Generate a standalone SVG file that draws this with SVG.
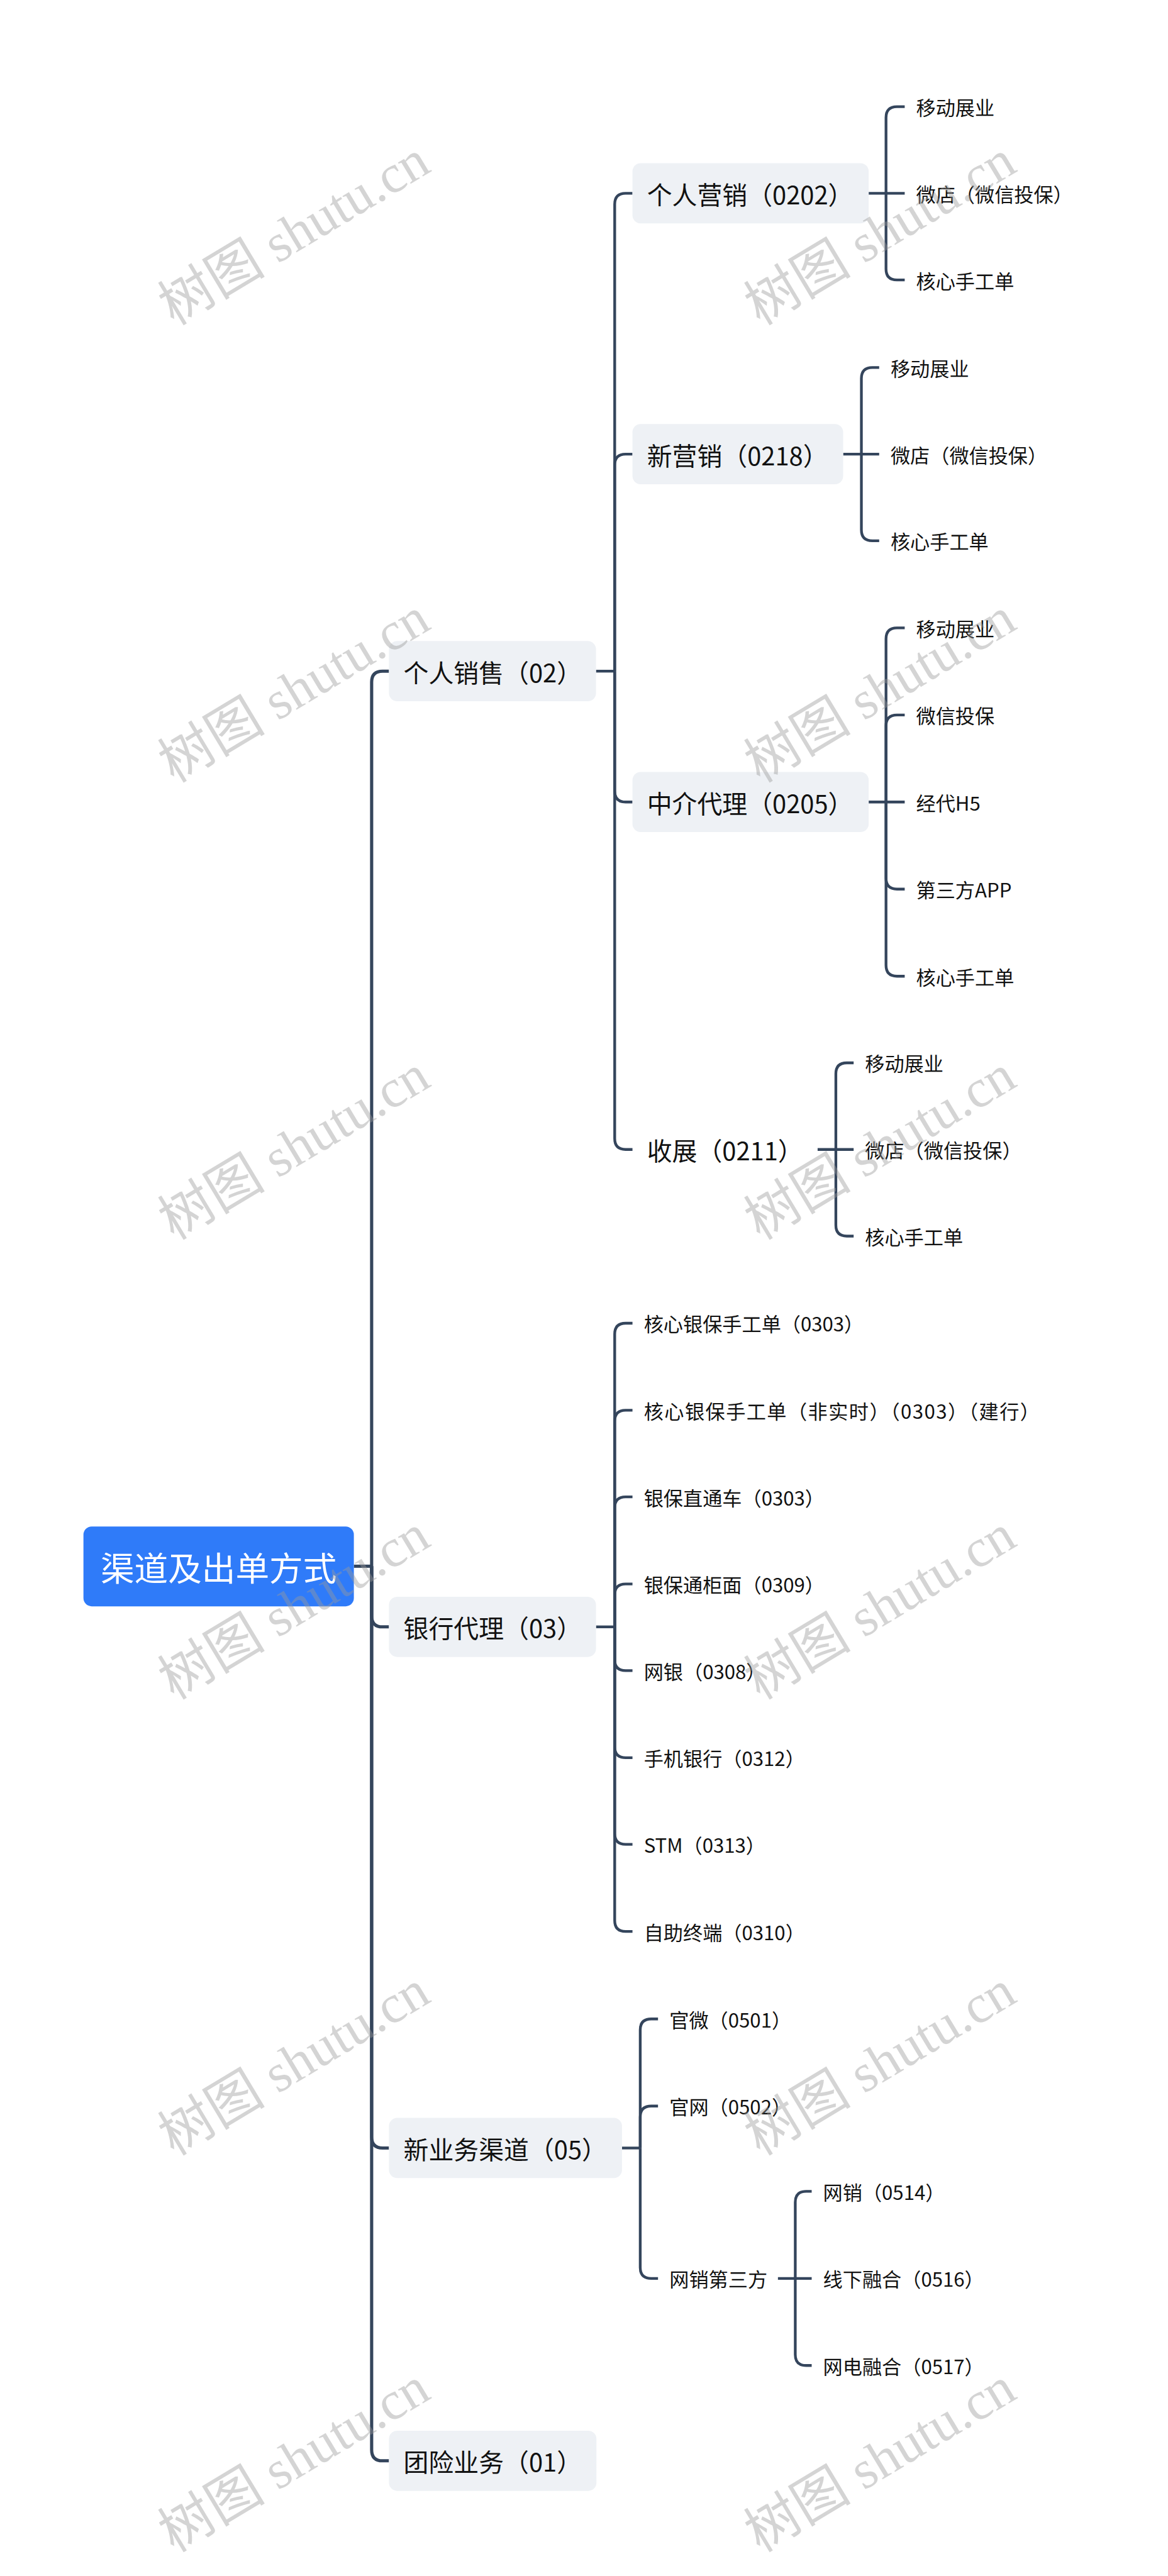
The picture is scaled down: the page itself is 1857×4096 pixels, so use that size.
<svg xmlns="http://www.w3.org/2000/svg" width="1857" height="4096" viewBox="0 0 1857 4096">
<style>
.t{font-family:"Noto Sans CJK SC","Liberation Sans",sans-serif;fill:#111;dominant-baseline:central;font-feature-settings:"chws" 0,"halt" 0}
.l1{font-size:55px}
.l2{font-size:55px}
.lf{font-size:43px}
.root{font-size:74px;fill:#fff;text-anchor:middle}
.box{fill:#eef1f5}
.c1{fill:none;stroke:#34455c;stroke-width:7}
.c2{fill:none;stroke:#34455c;stroke-width:6}
.wm{font-family:"Liberation Serif","Noto Sans CJK SC",serif;font-size:118px;fill:#9a9a9a;opacity:0.42;text-anchor:middle;dominant-baseline:central}
</style>
<rect width="1857" height="4096" fill="#fff"/>
<g transform="scale(0.725)">
<g id="connectors">
<path class="c1" d="M776,3435 H815"/>
<path class="c1" d="M815,3435 V1496 Q815,1472 839,1472 H853"/>
<path class="c1" d="M815,3435 V3544 Q815,3568 839,3568 H853"/>
<path class="c1" d="M815,3435 V4687 Q815,4711 839,4711 H853"/>
<path class="c1" d="M815,3435 V5373 Q815,5397 839,5397 H853"/>
<path class="c2" d="M1307,1472 H1348"/>
<path class="c2" d="M1348,1472 V448 Q1348,424 1372,424 H1387"/>
<path class="c2" d="M1348,1472 V1020 Q1348,996 1372,996 H1387"/>
<path class="c2" d="M1348,1472 V1735 Q1348,1759 1372,1759 H1387"/>
<path class="c2" d="M1348,1472 V2497 Q1348,2521 1372,2521 H1387"/>
<path class="c2" d="M1905,424 H1984"/>
<path class="c2" d="M1943,424 V258 Q1943,234 1967,234 H1984"/>
<path class="c2" d="M1943,424 V590 Q1943,614 1967,614 H1984"/>
<path class="c2" d="M1849,996 H1928"/>
<path class="c2" d="M1889,996 V830 Q1889,806 1913,806 H1928"/>
<path class="c2" d="M1889,996 V1162 Q1889,1186 1913,1186 H1928"/>
<path class="c2" d="M1905,1759 H1984"/>
<path class="c2" d="M1943,1759 V1401 Q1943,1377 1967,1377 H1984"/>
<path class="c2" d="M1943,1759 V1592 Q1943,1568 1967,1568 H1984"/>
<path class="c2" d="M1943,1759 V1926 Q1943,1950 1967,1950 H1984"/>
<path class="c2" d="M1943,1759 V2117 Q1943,2141 1967,2141 H1984"/>
<path class="c2" d="M1793,2521 H1872"/>
<path class="c2" d="M1833,2521 V2355 Q1833,2331 1857,2331 H1872"/>
<path class="c2" d="M1833,2521 V2687 Q1833,2711 1857,2711 H1872"/>
<path class="c2" d="M1307,3568 H1348"/>
<path class="c2" d="M1348,3568 V2926 Q1348,2902 1372,2902 H1387"/>
<path class="c2" d="M1348,3568 V3117 Q1348,3093 1372,3093 H1387"/>
<path class="c2" d="M1348,3568 V3307 Q1348,3283 1372,3283 H1387"/>
<path class="c2" d="M1348,3568 V3498 Q1348,3474 1372,3474 H1387"/>
<path class="c2" d="M1348,3568 V3640 Q1348,3664 1372,3664 H1387"/>
<path class="c2" d="M1348,3568 V3831 Q1348,3855 1372,3855 H1387"/>
<path class="c2" d="M1348,3568 V4021 Q1348,4045 1372,4045 H1387"/>
<path class="c2" d="M1348,3568 V4212 Q1348,4236 1372,4236 H1387"/>
<path class="c2" d="M1364,4711 H1404"/>
<path class="c2" d="M1404,4711 V4452 Q1404,4428 1428,4428 H1443"/>
<path class="c2" d="M1404,4711 V4643 Q1404,4619 1428,4619 H1443"/>
<path class="c2" d="M1404,4711 V4973 Q1404,4997 1428,4997 H1443"/>
<path class="c2" d="M1706,4997 H1780"/>
<path class="c2" d="M1744,4997 V4830 Q1744,4806 1768,4806 H1780"/>
<path class="c2" d="M1744,4997 V5164 Q1744,5188 1768,5188 H1780"/>
</g>
<g id="root"><rect x="183" y="3348" width="593" height="175" rx="18" fill="#2f7bf9"/><text class="t root" x="479.5" y="3435">渠道及出单方式</text></g>
<g id="n-02"><rect class="box" x="853" y="1406" width="454" height="132" rx="18"/><text class="t l1" x="885" y="1472">个人销售（02）</text></g>
<g id="n-03"><rect class="box" x="853" y="3502" width="454" height="132" rx="18"/><text class="t l1" x="885" y="3568">银行代理（03）</text></g>
<g id="n-05"><rect class="box" x="853" y="4645" width="511" height="132" rx="18"/><text class="t l1" x="885" y="4711">新业务渠道（05）</text></g>
<g id="n-01"><rect class="box" x="853" y="5331" width="455" height="132" rx="18"/><text class="t l1" x="885" y="5397">团险业务（01）</text></g>
<g id="n-0202"><rect class="box" x="1387" y="358" width="518" height="132" rx="18"/><text class="t l2" x="1419" y="424">个人营销（0202）</text></g>
<g id="n-0218"><rect class="box" x="1387" y="930" width="462" height="132" rx="18"/><text class="t l2" x="1419" y="996">新营销（0218）</text></g>
<g id="n-0205"><rect class="box" x="1387" y="1693" width="518" height="132" rx="18"/><text class="t l2" x="1419" y="1759">中介代理（0205）</text></g>
<g id="n-0211"><text class="t l2" x="1419" y="2521">收展（0211）</text></g>
<g id="leaves-0202">
<text class="t lf" x="2009" y="234">移动展业</text>
<text class="t lf" x="2009" y="424">微店（微信投保）</text>
<text class="t lf" x="2009" y="614">核心手工单</text>
</g>
<g id="leaves-0218">
<text class="t lf" x="1953" y="806">移动展业</text>
<text class="t lf" x="1953" y="996">微店（微信投保）</text>
<text class="t lf" x="1953" y="1186">核心手工单</text>
</g>
<g id="leaves-0205">
<text class="t lf" x="2009" y="1377">移动展业</text>
<text class="t lf" x="2009" y="1568">微信投保</text>
<text class="t lf" x="2009" y="1759">经代H5</text>
<text class="t lf" x="2009" y="1950">第三方APP</text>
<text class="t lf" x="2009" y="2141">核心手工单</text>
</g>
<g id="leaves-0211">
<text class="t lf" x="1897" y="2331">移动展业</text>
<text class="t lf" x="1897" y="2521">微店（微信投保）</text>
<text class="t lf" x="1897" y="2711">核心手工单</text>
</g>
<g id="leaves-03">
<text class="t lf" x="1412" y="2902">核心银保手工单（0303）</text>
<text class="t lf" x="1412" y="3093" textLength="868" lengthAdjust="spacing">核心银保手工单（非实时）（0303）（建行）</text>
<text class="t lf" x="1412" y="3283">银保直通车（0303）</text>
<text class="t lf" x="1412" y="3474">银保通柜面（0309）</text>
<text class="t lf" x="1412" y="3664">网银（0308）</text>
<text class="t lf" x="1412" y="3855">手机银行（0312）</text>
<text class="t lf" x="1412" y="4045">STM（0313）</text>
<text class="t lf" x="1412" y="4236">自助终端（0310）</text>
</g>
<g id="leaves-05">
<text class="t lf" x="1468" y="4428">官微（0501）</text>
<text class="t lf" x="1468" y="4619">官网（0502）</text>
<text class="t lf" x="1468" y="4997">网销第三方</text>
</g>
<g id="leaves-wx">
<text class="t lf" x="1805" y="4806">网销（0514）</text>
<text class="t lf" x="1805" y="4997">线下融合（0516）</text>
<text class="t lf" x="1805" y="5188">网电融合（0517）</text>
</g>
<g id="watermarks">
<text class="wm" transform="translate(645,511) rotate(-31)">树图 shutu.cn</text>
<text class="wm" transform="translate(1930,511) rotate(-31)">树图 shutu.cn</text>
<text class="wm" transform="translate(645,1514) rotate(-31)">树图 shutu.cn</text>
<text class="wm" transform="translate(1930,1514) rotate(-31)">树图 shutu.cn</text>
<text class="wm" transform="translate(645,2517) rotate(-31)">树图 shutu.cn</text>
<text class="wm" transform="translate(1930,2517) rotate(-31)">树图 shutu.cn</text>
<text class="wm" transform="translate(645,3525) rotate(-31)">树图 shutu.cn</text>
<text class="wm" transform="translate(1930,3525) rotate(-31)">树图 shutu.cn</text>
<text class="wm" transform="translate(645,4525) rotate(-31)">树图 shutu.cn</text>
<text class="wm" transform="translate(1930,4525) rotate(-31)">树图 shutu.cn</text>
<text class="wm" transform="translate(645,5395) rotate(-31)">树图 shutu.cn</text>
<text class="wm" transform="translate(1930,5395) rotate(-31)">树图 shutu.cn</text>
</g>
</g>
</svg>
